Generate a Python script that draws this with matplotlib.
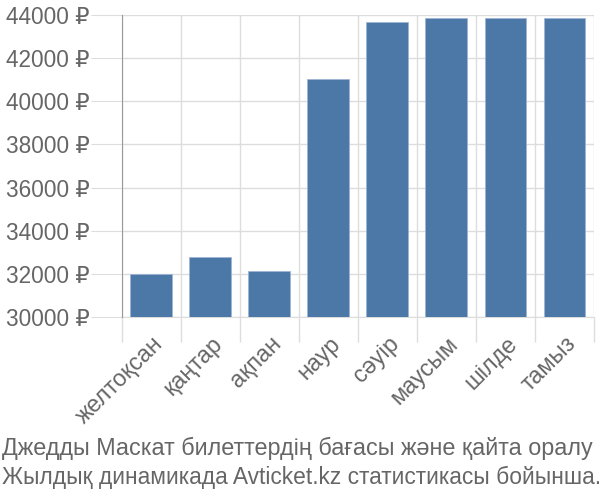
import numpy as np
import matplotlib
matplotlib.use('Agg')
import matplotlib.pyplot as plt
import matplotlib.ticker as mtick

plt.rcParams['font.family'] = ['Liberation Sans', 'DejaVu Sans']

months = ['желтоқсан', 'қаңтар', 'ақпан', 'наур', 'сәуір', 'маусым', 'шілде', 'тамыз']
prices = [31980, 32770, 32150, 41020, 43690, 43880, 43880, 43880]
y_ticks = [30000, 32000, 34000, 36000, 38000, 40000, 42000, 44000]
caption = ['Джедды Маскат билеттердің бағасы және қайта оралу',
           'Жылдық динамикада Avticket.kz статистикасы бойынша.']

bar_color = '#4c78a8'
grid_color = '#dddddd'
text_color = '#666666'

fig = plt.figure(figsize=(6, 5), dpi=100, facecolor='white')
ax = fig.add_axes([0.203, 0.366, 0.787, 0.604])

x = np.arange(len(months))
ax.bar(x, np.array(prices) - 30000, bottom=30000, width=0.71,
       color=bar_color, edgecolor='#9db5d3', linewidth=0.6, zorder=3)

ax.set_xlim(-0.5, len(months) - 0.5)
ax.set_ylim(30000, 44000)

# y axis
ax.set_yticks(y_ticks)
ax.yaxis.set_major_formatter(mtick.FuncFormatter(lambda v, p: '%d ₽' % v))
ax.tick_params(axis='y', length=22, color=grid_color, labelcolor=text_color,
               labelsize=16.3, pad=1)
ax.grid(axis='y', color=grid_color, linewidth=1, zorder=0)

# x axis: labels at centers, ticks + grid at boundaries
ax.set_xticks(x)
ax.set_xticklabels(months, rotation=45, ha='right', rotation_mode='anchor')
ax.tick_params(axis='x', which='major', length=0, labelcolor=text_color,
               labelsize=16.8, pad=11)
ax.set_xticks(np.arange(len(months) + 1) - 0.5, minor=True)
ax.tick_params(axis='x', which='minor', length=18, color=grid_color, width=1)
ax.grid(axis='x', which='minor', color=grid_color, linewidth=1, zorder=0)

for s in ['top', 'right']:
    ax.spines[s].set_visible(False)
ax.spines['bottom'].set_color(grid_color)
ax.spines['left'].set_color('#999999')
ax.spines['left'].set_zorder(4)

fig.text(0.003, 0.104, caption[0], ha='left', va='center', fontsize=16.8, color=text_color)
fig.text(0.003, 0.046, caption[1], ha='left', va='center', fontsize=16.4, color=text_color)

fig.savefig('out.png', dpi=100, facecolor='white')
